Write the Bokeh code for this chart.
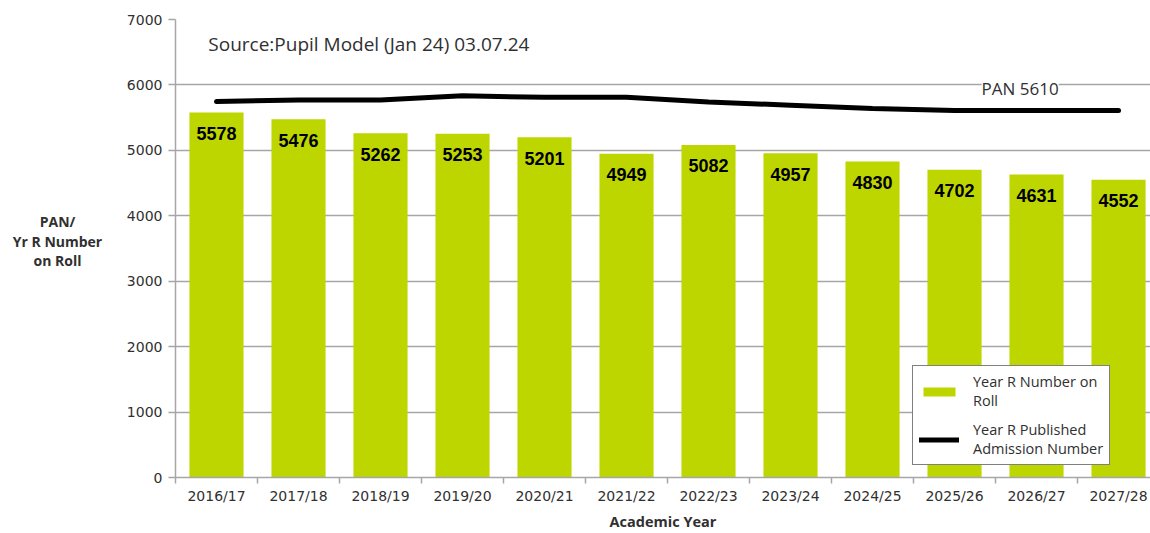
from bokeh.plotting import figure
from bokeh.models import (Range1d, FixedTicker, ColumnDataSource, Legend, LegendItem,
                          Label, SingleIntervalTicker, Div)
from bokeh.layouts import row
from bokeh.embed import file_html
from bokeh.resources import INLINE
from bokeh.core.properties import value

years = ["2016/17", "2017/18", "2018/19", "2019/20", "2020/21", "2021/22",
         "2022/23", "2023/24", "2024/25", "2025/26", "2026/27", "2027/28"]
roll = [5578, 5476, 5262, 5253, 5201, 4949, 5082, 4957, 4830, 4702, 4631, 4552]
pan = [5745, 5770, 5770, 5835, 5810, 5810, 5740, 5690, 5640, 5610, 5610, 5610]
y_title_lines = ["PAN/", "Yr R Number", "on Roll"]

GREEN = "#bed600"
GRID = "#a6a6a6"
TXT = "#303030"

xs = list(range(len(years)))
src = ColumnDataSource(dict(x=xs, roll=roll, pan=pan,
                            lbl=[str(v) for v in roll],
                            ly=[v - 320 for v in roll]))

p = figure(width=1035, height=533, output_backend="svg", toolbar_location=None,
           x_range=Range1d(-0.5, 11.39), y_range=Range1d(0, 7000),
           min_border_left=60, min_border_right=0, min_border_top=19, min_border_bottom=56,
           margin=0)
p.outline_line_color = None
p.background_fill_color = "white"

bars = p.vbar(x="x", top="roll", width=0.66, source=src, fill_color=GREEN, line_color=None)
line = p.line(x="x", y="pan", source=src, line_color="black", line_width=5, line_cap="round")
p.text(x="x", y="ly", text="lbl", source=src, text_align="center", text_baseline="middle",
       text_font=value("Liberation Sans"), text_font_style="bold", text_font_size="18px",
       text_color="black")

# axes
p.yaxis.ticker = SingleIntervalTicker(interval=1000)
p.yaxis.minor_tick_line_color = None
p.yaxis.major_tick_out = 7
p.yaxis.major_tick_in = 0
p.yaxis.axis_line_color = GRID
p.yaxis.axis_line_width = 1.5
p.yaxis.major_tick_line_color = GRID
p.yaxis.major_tick_line_width = 1.5
p.yaxis.major_label_text_font = "DejaVu Sans"
p.yaxis.major_label_text_font_size = "14px"
p.yaxis.major_label_text_color = TXT
p.yaxis.major_label_standoff = 6

centers = xs
bounds = [i - 0.5 for i in range(len(years) + 1)]
p.xaxis.ticker = FixedTicker(ticks=centers, minor_ticks=bounds)
p.xaxis.major_label_overrides = {i: y for i, y in enumerate(years)}
p.xaxis.major_tick_line_color = None
p.xaxis.minor_tick_line_color = GRID
p.xaxis.minor_tick_line_width = 1.5
p.xaxis.minor_tick_out = 6
p.xaxis.minor_tick_in = 0
p.xaxis.axis_line_color = GRID
p.xaxis.axis_line_width = 1.5
p.xaxis.major_label_text_font = "DejaVu Sans"
p.xaxis.major_label_text_font_size = "14px"
p.xaxis.major_label_text_color = TXT
p.xaxis.major_label_standoff = 4
p.xaxis.axis_label = "Academic Year"
p.xaxis.axis_label_text_font = "Open Sans"
p.xaxis.axis_label_text_font_style = "bold"
p.xaxis.axis_label_text_font_size = "14.5px"
p.xaxis.axis_label_text_color = TXT
p.xaxis.axis_label_standoff = 5

p.xgrid.grid_line_color = None
p.ygrid.grid_line_color = GRID
p.ygrid.grid_line_width = 1.5

p.add_layout(Label(x=-0.1, y=6633, text="Source:Pupil Model (Jan 24) 03.07.24",
                   text_font="Open Sans", text_font_size="19px", text_color=TXT,
                   text_baseline="middle", text_align="left"))
p.add_layout(Label(x=9.8, y=5945, text="PAN 5610", text_font="Open Sans",
                   text_font_size="17px", text_color=TXT, text_baseline="middle",
                   text_align="center", background_fill_color="white"))

legend = Legend(items=[LegendItem(label="Year R Number on\nRoll", renderers=[bars]),
                       LegendItem(label="Year R Published\nAdmission Number", renderers=[line])],
                location=(737, 12), border_line_color="black", border_line_width=1.5,
                label_text_font="Open Sans", label_text_font_size="14.5px",
                label_text_color=TXT, glyph_width=40, glyph_height=11,
                padding=6, spacing=10, margin=0, label_standoff=14,
                background_fill_color="white", background_fill_alpha=1)
p.add_layout(legend)

ytitle = Div(text="<br>".join(y_title_lines), width=115, height=533, margin=0,
             styles={"text-align": "center", "font-family": "Open Sans",
                     "font-weight": "bold", "font-size": "14px", "line-height": "19.5px",
                     "color": TXT, "padding-top": "212px", "width": "108px",
                     "box-sizing": "border-box"})

layout = row(ytitle, p, spacing=0)
open("out.html", "w").write(file_html(layout, INLINE))
